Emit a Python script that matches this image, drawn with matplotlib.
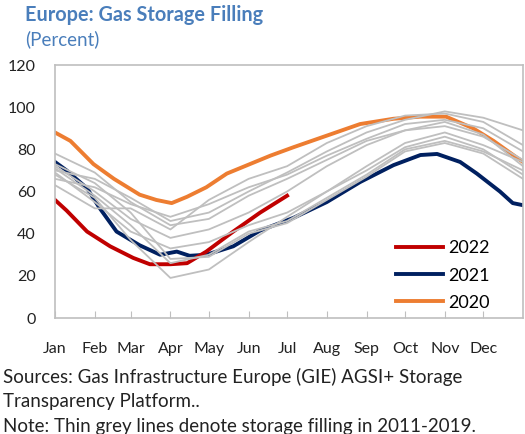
#!/usr/bin/env python3
"""Europe gas storage filling: 2020-2022 highlighted over grey 2011-2019 lines."""
import matplotlib
matplotlib.use("Agg")
import matplotlib.pyplot as plt

plt.rcParams["font.family"] = ["Lato", "DejaVu Sans"]

# day-of-year at the start of each month (plus year end)
month_days = [0, 31, 59, 90, 120, 151, 181, 212, 243, 273, 304, 334, 365]
month_labels = ["Jan", "Feb", "Mar", "Apr", "May", "Jun",
                "Jul", "Aug", "Sep", "Oct", "Nov", "Dec"]

# thin grey lines, values at month_days (percent full)
fill_2011 = [66, 62, 54, 48, 54, 62, 68, 77, 85, 92, 94, 90, 79]
fill_2012 = [78, 69, 55, 44, 47, 58, 66, 75, 84, 89, 91, 86, 75]
fill_2013 = [71, 58, 44, 26, 30, 41, 46, 57, 68, 80, 84, 79, 70]
fill_2014 = [70, 66, 57, 46, 50, 60, 69, 79, 88, 94, 98, 95, 89]
fill_2015 = [69, 55, 41, 33, 36, 44, 50, 60, 70, 81, 86, 80, 68]
fill_2016 = [72, 60, 47, 38, 42, 50, 60, 72, 82, 89, 93, 87, 72]
fill_2017 = [73, 64, 50, 28, 29, 40, 45, 56, 67, 79, 83, 78, 66]
fill_2018 = [68, 57, 37, 19, 23, 36, 48, 60, 72, 83, 88, 82, 74]
fill_2019 = [63, 52, 52, 42, 56, 66, 72, 83, 91, 96, 97, 93, 82]
grey_years = [fill_2011, fill_2012, fill_2013, fill_2014, fill_2015,
              fill_2016, fill_2017, fill_2018, fill_2019]

days_2020 = [0, 12, 30, 46, 66, 79, 91, 103, 118, 134, 150, 168, 186,
             212, 238, 264, 285, 305, 326, 342, 365]
fill_2020 = [88, 84, 73, 66, 58.5, 56, 54.5, 57.5, 62, 68.5, 72.5, 77, 81,
             86.5, 92, 94.5, 95.5, 95.5, 90, 84, 74]

days_2021 = [0, 9, 25, 35, 48, 66, 82, 95, 105, 118, 139, 160, 186,
             212, 238, 264, 285, 298, 316, 329, 347, 357, 365]
fill_2021 = [74, 70, 61.5, 52, 41, 34.5, 30, 31.5, 29.5, 30, 34, 41.5, 47.5,
             55, 64.5, 72.5, 77.3, 77.8, 74, 68.5, 60, 54.5, 53.5]

days_2022 = [0, 9, 25, 43, 61, 74, 90, 103, 118, 139, 160, 181]
fill_2022 = [56, 51, 41, 34, 28.5, 25.5, 25.5, 26, 31.5, 41, 50, 58]

TITLE_BLUE = "#4A7EBB"
GREY = "#BFBFBF"
TEXT = "#222222"

fig = plt.figure(figsize=(5.25, 4.34), dpi=100)
ax = fig.add_axes([55 / 525, 1 - 318 / 434, 468 / 525, 253 / 434])

ax.plot(days_2020, fill_2020, color="#ED7D31", lw=2.8, label="2020", zorder=2)
ax.plot(days_2021, fill_2021, color="#002060", lw=2.8, label="2021", zorder=2)
ax.plot(days_2022, fill_2022, color="#C00000", lw=2.8, label="2022", zorder=2)

# the grey history sits on top of the coloured years, as in the original
for vals in grey_years:
    ax.plot(month_days, vals, color=GREY, lw=1.3, zorder=3,
            solid_joinstyle="round")

ax.set_xlim(0, 365)
ax.set_ylim(0, 120)
ax.set_yticks(range(0, 121, 20))
ax.set_xticks(month_days[:-1])
ax.set_xticklabels(month_labels)
ax.tick_params(axis="x", direction="in", length=5, color=GREY, pad=17,
               labelsize=11.5, labelcolor=TEXT)
ax.tick_params(axis="y", length=0, pad=14, labelsize=11.5, labelcolor=TEXT)
for spine in ax.spines.values():
    spine.set_color(GREY)
    spine.set_linewidth(1.2)

handles, labels = ax.get_legend_handles_labels()
ax.legend(handles[::-1], labels[::-1], loc="lower right", frameon=False,
          bbox_to_anchor=(0.944, 0.0), fontsize=13, handlelength=2.6,
          handletextpad=0.28, labelspacing=0.62, borderaxespad=0.0)

fig.text(25 / 525, 1 - 15 / 434, "Europe: Gas Storage Filling", color=TITLE_BLUE,
         fontsize=14.3, fontweight="bold", va="center", ha="left")
fig.text(25 / 525, 1 - 39 / 434, "(Percent)", color=TITLE_BLUE,
         fontsize=13.5, va="center", ha="left")

notes = ["Sources: Gas Infrastructure Europe (GIE) AGSI+ Storage",
         "Transparency Platform..",
         "Note: Thin grey lines denote storage filling in 2011-2019."]
for i, line in enumerate(notes):
    fig.text(3 / 525, 1 - (383 + 24.5 * i) / 434, line, fontsize=13.5,
             va="baseline", ha="left", color=TEXT)

fig.savefig("out.png", dpi=100)
